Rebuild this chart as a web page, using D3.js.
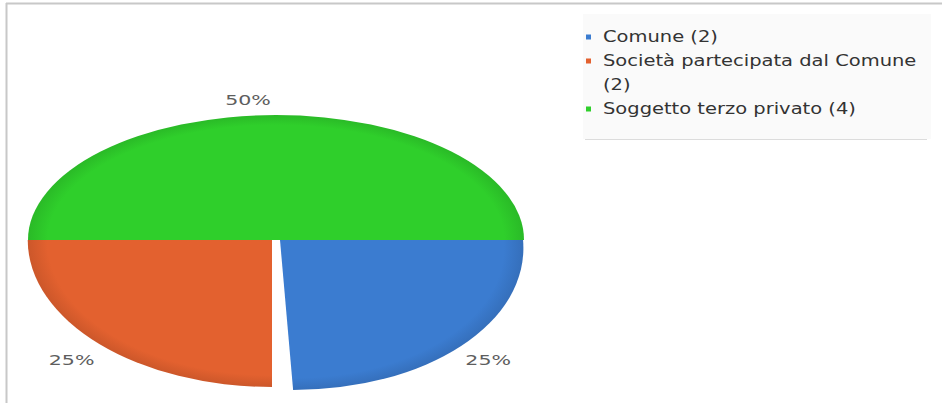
<!DOCTYPE html>
<html><head><meta charset="utf-8">
<script src="https://cdn.jsdelivr.net/npm/d3@7/dist/d3.min.js"></script>
<style>body{margin:0;background:#fff}svg{display:block}</style>
</head><body>
<svg id="c" width="942" height="403"></svg>
<script>
const categories = ["Comune", "Società partecipata dal Comune", "Soggetto terzo privato"];
const values = [2, 2, 4];
const colors = ["#3b7cd0", "#e3612f", "#2fcf2b"];
const legendLines = [["Comune (2)"], ["Società partecipata dal Comune", "(2)"], ["Soggetto terzo privato (4)"]];

const svg = d3.select("#c");
const font = "DejaVu Sans, sans-serif";

// frame
svg.append("line").attr("x1",6).attr("x2",942).attr("y1",3.5).attr("y2",3.5).attr("stroke","#c8c8c8").attr("stroke-width",2);
svg.append("line").attr("x1",6.5).attr("x2",6.5).attr("y1",3).attr("y2",403).attr("stroke","#c8c8c8").attr("stroke-width",2);

const R = 248;
const pie = d3.pie().sort(null).startAngle(Math.PI/2).endAngle(Math.PI/2 + 2*Math.PI);
const arcs = pie(values);
const arc = d3.arc().innerRadius(0).outerRadius(R);

// per-slice projection (tilted, slightly exploded)
const proj = [
  {tx:280, ty:240, sx:0.98, sy:150/248, skew:5},
  {tx:272, ty:240, sx:0.985, sy:147/248, skew:0},
  {tx:276, ty:240, sx:1.0, sy:125/248, skew:0}
];

const defs = svg.append("defs");
arcs.forEach((a,i)=>{
  const g = defs.append("radialGradient").attr("id","g"+i).attr("gradientUnits","userSpaceOnUse")
    .attr("cx",0).attr("cy",0).attr("r",R);
  const c = d3.color(colors[i]);
  g.append("stop").attr("offset","0.92").attr("stop-color",colors[i]);
  g.append("stop").attr("offset","1").attr("stop-color",c.darker(0.3).formatHex());
});

const gp = svg.append("g");
[2,1,0].forEach(i=>{
  const p = proj[i];
  gp.append("path")
    .attr("d", arc(arcs[i]))
    .attr("fill", "url(#g"+i+")")
    .attr("transform", `translate(${p.tx},${p.ty}) skewX(${p.skew}) scale(${p.sx},${p.sy})`);
});

// labels
const labelPos = [
  {r:1.2, dx:2, dy:-8},
  {r:1.16, dx:0, dy:-1},
  {r:1.13, dx:-28, dy:1}
];
arcs.forEach((a,i)=>{
  const p = proj[i];
  const la = d3.arc().innerRadius(R*labelPos[i].r).outerRadius(R*labelPos[i].r);
  const [x,y] = la.centroid(a);
  const pct = Math.round(a.value / d3.sum(values) * 100) + "%";
  svg.append("text")
    .attr("transform", `translate(${p.tx + x*p.sx + labelPos[i].dx},${p.ty + y*p.sy + labelPos[i].dy}) scale(1.42,1)`)
    .attr("text-anchor","middle").attr("dominant-baseline","central")
    .attr("font-family",font).attr("font-size",14.5).attr("fill","#5e5e5e")
    .text(pct);
});

// legend
const lg = svg.append("g");
lg.append("rect").attr("x",583).attr("y",14).attr("width",348).attr("height",125).attr("fill","#fafafa");
lg.append("line").attr("x1",585).attr("x2",927).attr("y1",139.5).attr("y2",139.5).attr("stroke","#dcdcdc");
let row = 0;
legendLines.forEach((lines,i)=>{
  lg.append("rect").attr("x",586).attr("y",34.5 + row*24).attr("width",5).attr("height",5).attr("fill",colors[i]);
  lines.forEach(t=>{
    lg.append("text").attr("transform",`translate(603,${37 + row*24}) scale(1.3,1)`).attr("dominant-baseline","central")
      .attr("font-family",font).attr("font-size",15).attr("fill","#333").text(t);
    row++;
  });
});
</script>
</body></html>
